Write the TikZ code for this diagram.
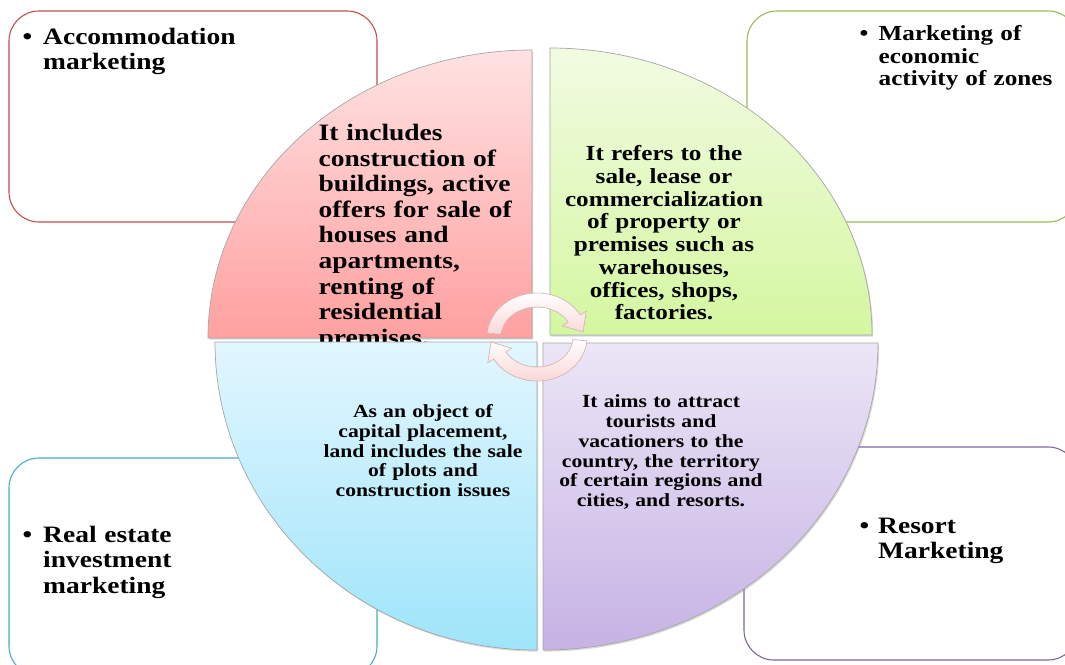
\documentclass[tikz,border=0pt]{standalone}
\usepackage{fontspec}
\setmainfont{Liberation Serif}[FakeStretch=1.17]
\usetikzlibrary{shadows}
\definecolor{boxred}{RGB}{192,80,77}
\definecolor{boxgreen}{RGB}{155,187,89}
\definecolor{boxblue}{RGB}{75,172,198}
\definecolor{boxpurple}{RGB}{128,100,162}
\definecolor{pinktop}{RGB}{255,226,226}
\definecolor{pinkbot}{RGB}{255,160,160}
\definecolor{greentop}{RGB}{242,251,226}
\definecolor{greenbot}{RGB}{212,247,160}
\definecolor{bluetop}{RGB}{226,246,255}
\definecolor{bluebot}{RGB}{158,229,250}
\definecolor{purptop}{RGB}{236,230,246}
\definecolor{purpbot}{RGB}{198,178,228}
\definecolor{arrowpink}{RGB}{250,215,215}
\definecolor{arrowline}{RGB}{225,190,190}
\begin{document}
\begin{tikzpicture}[x=1pt,y=-1pt,
  outerbox/.style={rounded corners=30pt, line width=1.1pt, fill=white},
  quad/.style={draw=black!35, line width=0.7pt,
    drop shadow={shadow xshift=1.2pt, shadow yshift=-1.6pt, opacity=0.3}},
  bul/.style={font=\fontsize{23.5}{25.6}\selectfont\bfseries, inner sep=0pt, anchor=base west},
  lbl/.style={font=\fontsize{23.5}{25.6}\selectfont\bfseries, inner sep=0pt,
    text width=300pt, align=left, anchor=base west},
  ctext/.style={inner sep=0pt, text width=280pt, align=center, anchor=base},
  cyc/.pic={
    \filldraw[draw=arrowline, line width=0.7pt, top color=white, bottom color=arrowpink]
      plot[domain=175:30,samples=40] ({50*cos(\x)},{-44*sin(\x)})
      -- (49.15,-25.8) -- (46,-5.1) -- (25.35,-11.2)
      -- plot[domain=30:175,samples=40] ({36*cos(\x)},{-30*sin(\x)}) -- cycle;
  }]
\useasboundingbox (0,0) rectangle (1065,664);
\clip (0,0) rectangle (1065,664);
\fill[white] (0,0) rectangle (1065,664);

% outer boxes
\draw[outerbox, draw=boxred] (9,11) rectangle (377,222);
\draw[outerbox, draw=boxgreen] (747,11) rectangle (1078,222);
\draw[outerbox, draw=boxblue] (9,458) rectangle (377,676);
\draw[outerbox, draw=boxpurple] (744,447) rectangle (1078,660);

\node[bul] (b1) at (22.5,44) {•};
\node[lbl] (t1) at (43,44) {Accommodation\\marketing};
\node[bul, font=\fontsize{21.5}{22.7}\selectfont\bfseries] (b2) at (859.5,40.5) {•};
\node[lbl, font=\fontsize{21.5}{22.7}\selectfont\bfseries] (t2) at (878.5,40.5) {Marketing of\\economic\\activity of zones};
\node[bul] (b3) at (22.5,542) {•};
\node[lbl] (t3) at (43,542) {Real estate\\investment\\marketing};
\node[bul, font=\fontsize{23.5}{25}\selectfont\bfseries] (b4) at (859.5,533) {•};
\node[lbl, font=\fontsize{23.5}{25}\selectfont\bfseries] (t4) at (878,533) {Resort\\Marketing};

% pink quadrant
\path[quad, top color=pinktop, bottom color=pinkbot]
  (532,338) -- (208,338) .. controls (208,178.9) and (353.1,50) .. (532,50) -- cycle;
\node[lbl] (q1) at (318.5,140.5) {It includes\\construction of\\buildings, active\\offers for sale of\\houses and\\apartments,\\renting of\\residential\\premises.};

% green quadrant
\path[quad, top color=greentop, bottom color=greenbot]
  (550,335) -- (550,48) .. controls (727.8,48) and (872,176.5) .. (872,335) -- cycle;
\node[ctext, font=\fontsize{21.5}{22.75}\selectfont\bfseries] (q2) at (664,160.7)
  {It refers to the\\sale, lease or\\commercialization\\of property or\\premises such as\\warehouses,\\offices, shops,\\factories.};

% blue quadrant
\path[quad, top color=bluetop, bottom color=bluebot]
  (537,342) -- (537,650) .. controls (359.2,650) and (215,512.1) .. (215,342) -- cycle;
\node[ctext, font=\fontsize{18.5}{19.85}\selectfont\bfseries] (q3) at (423,417.3)
  {As an object of\\capital placement,\\land includes the sale\\of plots and\\construction issues};

% purple quadrant
\path[quad, top color=purptop, bottom color=purpbot]
  (543,343) -- (878,343) .. controls (878,512.6) and (728,650) .. (543,650) -- cycle;
\node[ctext, font=\fontsize{18.5}{19.9}\selectfont\bfseries] (q4) at (661,407.3)
  {It aims to attract\\tourists and\\vacationers to the\\country, the territory\\of certain regions and\\cities, and resorts.};

% circular arrows
\pic at (537,337) {cyc};
\pic[rotate=180] at (537,337) {cyc};
\end{tikzpicture}
\end{document}
